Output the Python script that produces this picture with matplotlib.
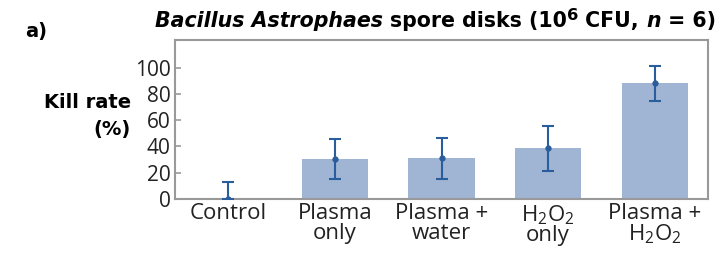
import matplotlib
matplotlib.use("Agg")
import matplotlib.pyplot as plt

categories = ["Control", "Plasma\nonly", "Plasma +\nwater", "H$_2$O$_2$\nonly", "Plasma +\nH$_2$O$_2$"]
kill_rate = [0, 30.5, 31, 38.5, 88]
err_lo = [0, 15.5, 15.5, 17, 13.5]
err_hi = [13, 15.5, 15.5, 17, 13.5]
yticks = [0, 20, 40, 60, 80, 100]

plt.rcParams['font.family'] = ['Open Sans', 'DejaVu Sans']
plt.rcParams['mathtext.fontset'] = 'custom'
plt.rcParams['mathtext.rm'] = 'Open Sans'

fig = plt.figure(figsize=(7.2, 2.74), dpi=100)
ax = fig.add_axes([175/720, 1-199/274, (708-175)/720, (199-40)/274])

x = list(range(len(categories)))
ax.bar(x, kill_rate, width=0.62, color="#a0b4d4", zorder=1)
ax.errorbar(x, kill_rate, yerr=[err_lo, err_hi], fmt='o', ms=3.5, color="#2a5d9b",
            ecolor="#2a5d9b", elinewidth=1.5, capsize=4, capthick=1.5, zorder=3)

ax.set_xlim(-0.5, 4.5)
ax.set_ylim(0, 121)
ax.set_yticks(yticks)
ax.set_xticks(x)
ax.set_xticklabels(categories, fontsize=16, color="#222222", linespacing=0.9)
ax.tick_params(axis='x', length=0, pad=3)
ax.tick_params(axis='y', direction='in', length=4, width=1.2, color="#999999",
               labelsize=15, labelcolor="#222222", pad=3)
for s in ax.spines.values():
    s.set_color("#999999")
    s.set_linewidth(1.5)

lab_font = ['DejaVu Sans']
fig.text(131/720, 1-103/274, "Kill rate", fontsize=14, fontweight='bold', family=lab_font,
         ha='right', va='center')
fig.text(131/720, 1-129/274, "(%)", fontsize=14, fontweight='bold', family=lab_font,
         ha='right', va='center')
fig.text(25/720, 1-31/274, "a)", fontsize=14, fontweight='bold', family=lab_font,
         ha='left', va='center')

# Title assembled from pieces sharing one baseline, scaled to fit the reference span
renderer = fig.canvas.get_renderer()
title_font = ['DejaVu Sans']
pieces = [
    ("Bacillus Astrophaes ", dict(fontstyle='italic', fontweight='bold'), 1.0, 0),
    ("spore disks (10", dict(fontweight='bold'), 1.0, 0),
    ("6", dict(fontweight='bold'), 0.8, 0.45),
    (" CFU, ", dict(fontweight='bold'), 1.0, 0),
    ("n", dict(fontstyle='italic', fontweight='bold'), 1.0, 0),
    (" = 6)", dict(fontweight='bold'), 1.0, 0),
]


def place(size, draw):
    xpix = 155
    base = 274 - 27
    made = []
    for txt, kw, rel, rise in pieces:
        fs = size * rel
        t = fig.text(xpix/720, (base + rise*size)/274, txt, ha='left', va='baseline',
                     fontsize=fs, family=title_font, **kw)
        xpix += t.get_window_extent(renderer).width
        made.append(t)
    if not draw:
        for t in made:
            t.remove()
    return xpix


end = place(15.0, False)
size = 15.0 * (718 - 155) / (end - 155)
place(size, True)

fig.savefig("out.png", dpi=100)
